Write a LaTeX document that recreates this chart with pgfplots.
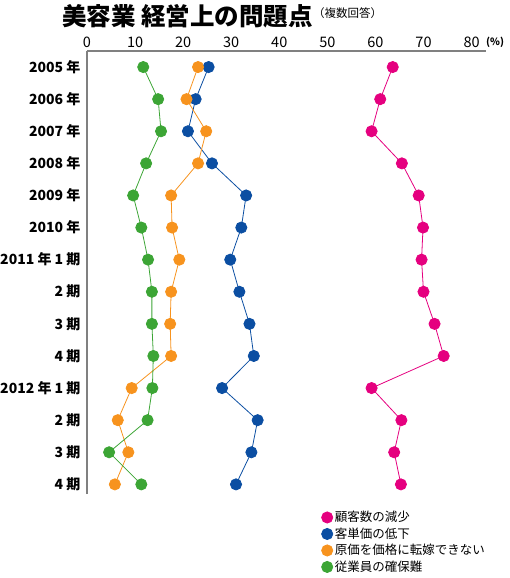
\documentclass[border=0pt]{standalone}
\usepackage{fontspec}
\setmainfont{Noto Sans CJK JP}
\newfontfamily\blk{Noto Sans CJK JP Black}
\usepackage{pgfplots}
\pgfplotsset{compat=1.18}

\definecolor{cpink}{HTML}{E5007F}
\definecolor{cblue}{HTML}{0B4EA2}
\definecolor{corange}{HTML}{F7931E}
\definecolor{cgreen}{HTML}{3CA535}
\definecolor{caxis}{HTML}{808080}

\begin{document}
\begin{tikzpicture}
\path[use as bounding box] (-87bp,51bp) rectangle (423bp,-527bp);
\node[anchor=west, inner sep=0pt, font=\blk\fontsize{24.5bp}{24.5bp}\selectfont] at (-25bp,35bp) {美容業 経営上の問題点};
\node[anchor=west, inner sep=0pt, font=\fontsize{11.5bp}{11.5bp}\selectfont] at (226bp,38bp) {（複数回答）};
\node[anchor=west, inner sep=0pt, font=\bfseries\fontsize{10bp}{10bp}\selectfont] at (399bp,9bp) {(\%)};
\begin{axis}[
  at={(0,0)}, anchor=north west,
  scale only axis, width=399bp, height=443bp,
  xmin=0, xmax=83, ymin=-0.3, ymax=13.5,
  axis x line*=top, axis y line*=left,
  axis line style={draw=caxis, line width=1.3pt, -},
  xtick={0,10,...,80}, ytick={0,...,13},
  yticklabels={4 期,3 期,2 期,2012 年 1 期,4 期,3 期,2 期,2011 年 1 期,2010 年,2009 年,2008 年,2007 年,2006 年,2005 年},
  major tick length=0pt,
  /pgf/number format/assume math mode=true,
  xticklabel style={font=\fontsize{14.5bp}{14.5bp}\selectfont},
  yticklabel style={font=\blk\fontsize{14bp}{14bp}\selectfont, xshift=-3bp},
  every axis plot/.append style={line width=0.8pt, mark=*, mark size=5.6bp},
  clip=false,
  legend style={draw=none, fill=none, at={(axis description cs:0.58,-0.03)}, anchor=north west,
    font=\fontsize{12.5bp}{12.5bp}\selectfont, row sep=0.5bp},
  legend cell align=left,
  legend image code/.code={\draw[#1] plot[only marks] coordinates {(0.15cm,0cm)};},
]
\addplot[color=cpink] coordinates {
  (63.6,13) (61.0,12) (59.2,11) (65.5,10) (69.0,9) (69.9,8) (69.6,7)
  (70.0,6) (72.3,5) (74.2,4) (59.2,3) (65.4,2) (63.9,1) (65.3,0)};
\addlegendentry{顧客数の減少}
\addplot[color=cblue] coordinates {
  (25.3,13) (22.6,12) (21.0,11) (26.0,10) (33.1,9) (32.1,8) (29.8,7)
  (31.7,6) (33.8,5) (34.7,4) (28.1,3) (35.5,2) (34.2,1) (31.0,0)};
\addlegendentry{客単価の低下}
\addplot[color=corange] coordinates {
  (23.1,13) (20.7,12) (24.8,11) (23.1,10) (17.5,9) (17.7,8) (19.2,7)
  (17.5,6) (17.3,5) (17.5,4) (9.3,3) (6.4,2) (8.6,1) (5.8,0)};
\addlegendentry{原価を価格に転嫁できない}
\addplot[color=cgreen] coordinates {
  (11.7,13) (14.8,12) (15.4,11) (12.3,10) (9.6,9) (11.3,8) (12.7,7)
  (13.5,6) (13.5,5) (13.8,4) (13.6,3) (12.6,2) (4.6,1) (11.3,0)};
\addlegendentry{従業員の確保難}
\end{axis}
\end{tikzpicture}
\end{document}
